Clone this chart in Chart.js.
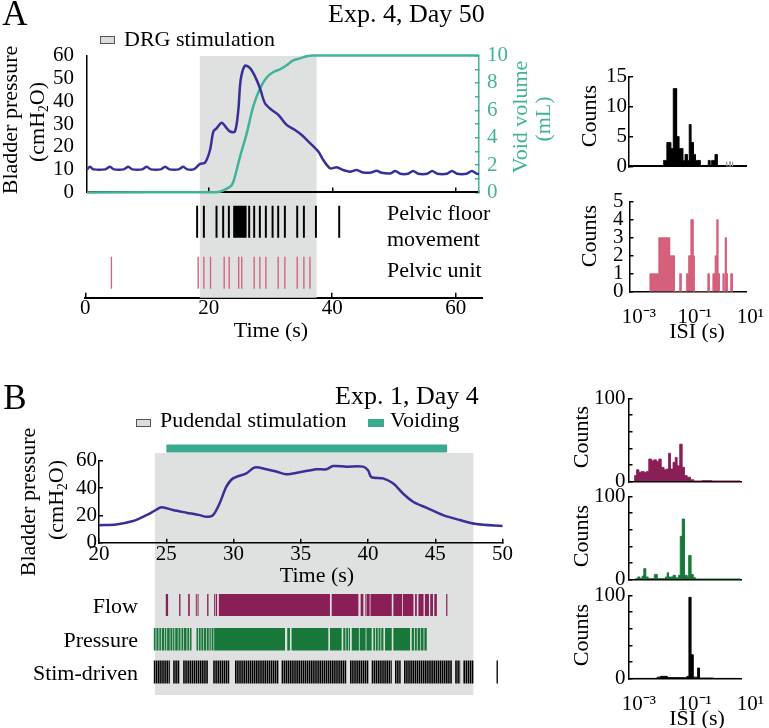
<!DOCTYPE html>
<html><head><meta charset="utf-8">
<script src="https://cdn.jsdelivr.net/npm/chart.js@4/dist/chart.umd.min.js"></script>
<style>
html,body{margin:0;padding:0;background:#fff;}
#page{position:relative;width:769px;height:728px;overflow:hidden;font-family:'Liberation Serif','Times New Roman',serif;color:#000;background:#fff;}
.wrap{position:absolute;left:0;top:0;}
.wrap canvas{display:block;}
#texts{position:absolute;left:0;top:0;width:769px;height:728px;z-index:50;pointer-events:none;}
#texts div{position:absolute;white-space:nowrap;line-height:1;font-size:22px;}
.c{transform:translate(-50%,-50%);}
.l{transform:translate(0,-50%);}
.r{transform:translate(-100%,-50%);}
.v{transform:translate(-50%,-50%) rotate(-90deg);}
.teal{color:#3fb49a;}
sub{font-size:0.62em;vertical-align:-0.3em;line-height:0;}
</style></head><body>
<div id="page">
<div id="texts">
  <div class="c" style="left:15px;top:13px;font-size:35px">A</div>
  <div class="l" style="left:328px;top:14px;font-size:26px">Exp. 4, Day 50</div>
  <div style="left:100px;top:36px;width:13px;height:6px;border:1px solid #555;background:#dcdcdc"></div>
  <div class="l" style="left:124px;top:39px">DRG stimulation</div>
  <div class="v" style="left:10px;top:120px">Bladder pressure</div>
  <div class="v" style="left:37px;top:122px">(cmH<sub>2</sub>O)</div>
  <div class="v teal" style="left:520px;top:117px">Void volume</div>
  <div class="v teal" style="left:543px;top:119px">(mL)</div>
  <div class="l" style="left:387px;top:213px">Pelvic floor</div>
  <div class="l" style="left:387px;top:239px">movement</div>
  <div class="l" style="left:387px;top:270px">Pelvic unit</div>
  <div class="c" style="left:271px;top:330px">Time (s)</div>
  <div class="v" style="left:589px;top:116px">Counts</div>
  <div class="v" style="left:589px;top:236px">Counts</div>
  <div class="c" style="left:697px;top:331px">ISI (s)</div>

  <div class="c" style="left:15px;top:397px;font-size:35px">B</div>
  <div class="l" style="left:335px;top:396px;font-size:26px">Exp. 1, Day 4</div>
  <div style="left:136px;top:419px;width:13px;height:6px;border:1px solid #555;background:#dcdcdc"></div>
  <div class="l" style="left:160px;top:420px">Pudendal stimulation</div>
  <div style="left:368px;top:419px;width:16px;height:8px;background:#3aab90"></div>
  <div class="l" style="left:390px;top:420px">Voiding</div>
  <div class="v" style="left:28px;top:502px">Bladder pressure</div>
  <div class="v" style="left:56px;top:500px">(cmH<sub>2</sub>O)</div>
  <div class="c" style="left:317px;top:575px">Time (s)</div>
  <div class="r" style="left:138px;top:606px">Flow</div>
  <div class="r" style="left:138px;top:640px">Pressure</div>
  <div class="r" style="left:138px;top:673px">Stim-driven</div>
  <div class="v" style="left:581px;top:437px">Counts</div>
  <div class="v" style="left:581px;top:536px">Counts</div>
  <div class="v" style="left:581px;top:635px">Counts</div>
  <div class="c" style="left:697px;top:718px">ISI (s)</div>
</div>
</div>
<script>
// ================= DATA =================
// ---- Panel A: Exp. 4, Day 50 ----
const aTimeTicks = [0, 20, 40, 60];
const aPressTicks = [0, 10, 20, 30, 40, 50, 60];
const aVolTicks = [0, 1, 2, 3, 4, 5, 6, 7, 8, 9, 10];
const aPressT = [0.24,0.73,1.3,3.2,3.97,4.6,6.2,6.94,7.6,9.2,9.92,10.6,12.2,12.9,13.6,15.1,15.85,16.5,17.6,18.56,19.37,20.18,20.72,21.26,22.07,22.88,23.41,24.22,24.77,25.15,25.85,26.66,27.47,28.28,29.09,30.17,31.25,32.6,33.95,35.04,36.39,37.73,38.54,39.63,40.71,41.78,42.87,43.95,45.02,46.3,47.2,48.0,49.4,50.2,51.0,52.3,53.1,53.9,55.4,56.2,57.0,58.6,59.4,60.2,61.8,62.6,63.4,63.78];
const aPressV = [10.1,11.2,10.1,10.1,11.2,10.1,10.1,11.2,10.1,10.1,11.2,10.1,10.1,11.2,10.1,10.1,11.2,10.1,10.2,12.5,13,18.6,26.7,28.2,30.6,28.2,26.7,26.7,36.2,49.4,55.6,54.5,50.9,45.7,39.1,36.2,34,29.6,27.4,25.2,21.6,17.9,14.2,10.6,11,9.8,9.1,9.8,8.7,8.7,9.5,8.6,8.3,9.4,8.2,8.2,9.4,8.2,8.2,9.4,8.2,8.2,9.4,8.2,8.2,9.4,8.2,8.0];
const aVolT = [0.24,21.26,23.41,23.95,25.04,26.12,27.2,28.28,29.37,30.44,31.52,32.6,33.68,34.77,35.85,36.92,63.78];
const aVolV = [0,0.02,0.4,0.76,2.6,4.3,6.3,7.6,8.4,8.8,9.0,9.3,9.65,9.8,9.95,10,10];
const aStimWindow = [18.56, 37.47];
const aFloorSpikes = [18.12,19.21,21.26,22.34,23.26,26.55,27.36,28.28,29.25,30.34,31.25,32.33,34.33,35.41,37.36,41.13];
const aFloorBursts = [[23.96, 26.13]];
const aUnitSpikes = [4.24,18.29,19.21,20.29,22.5,23.31,24.85,25.35,27.36,28.28,29.25,31.25,32.33,34.33,35.41,36.39];

const isiTicks = [-3, -1, 1];
const isiTickLabels = ['10\u207B\u00B3', '10\u207B\u00B9', '10\u00B9'];
const aFloorCountTicks = [0, 5, 10, 15];
const aUnitCountTicks = [0, 1, 2, 3, 4, 5];
const aFloorIsiEdges = [-2.11,-1.99,-1.85,-1.76,-1.64,-1.56,-1.42,-1.34,-1.26,-1.19,-1.13,-1.04,-0.97,-0.80,-0.51,-0.45,-0.39,-0.27,-0.19];
const aFloorIsiCounts = [1,4,3,13,5,3,1,2,1,7,4,2,1,0,1,0,1,2];
const aFloorFaintEdges = [0.145,0.155,0.265,0.275,0.355,0.365];
const aFloorFaintCounts = [0.8,0,0.8,0,0.8];
const aUnitIsiEdges = [-2.61,-2.29,-1.90,-1.73,-1.54,-1.49,-1.30,-1.22,-1.14,-1.06,-1.02,-0.53,-0.48,-0.35,-0.27,-0.21,-0.17,-0.11,0.01,0.05,0.09,0.13,0.17,0.29,0.35];
const aUnitIsiCounts = [1,3,2,0,1,0,1,2,4,2,0,1,0,1,2,4,1,0,1,0,3,1,0,1];

// ---- Panel B: Exp. 1, Day 4 ----
const bTimeTicks = [20, 25, 30, 35, 40, 45, 50];
const bPressTicks = [0, 20, 40, 60];
const bCountTicks = [0, 20, 40, 60, 80, 100];
const bPressT = [20,21.29,22.53,23.27,24.02,24.64,25.5,26.5,27.49,27.99,28.48,28.97,29.47,29.96,30.96,31.58,32.44,33.19,33.93,34.92,36.16,36.91,37.4,38.39,39.63,40.0,40.25,41.12,41.86,42.6,43.35,44.34,45.58,46.82,48.06,50];
const bPressV = [12.9,13.4,15.9,19,22.7,25.9,23.9,22,20.2,19,20.2,28.8,41,47,50.7,55,53.7,52,50,51.5,53.7,53.7,56,55.6,55.6,53,48,47,43.4,36,30,25.6,20.2,16.6,13.7,12.2];
const bStimWindow = [24.15, 47.8];
const bVoidWindow = [25.0, 45.85];
const bFlowRuns = [[24.96,25.13],[25.95,26.05],[26.62,26.74],[27.19,27.26],[27.32,27.39],[28.03,28.13],[28.55,28.63],[28.68,28.77],[28.9,37.15],[37.28,39.26],[39.43,39.63],[39.75,39.8],[39.86,40.1],[40.16,41.74],[41.86,42.5],[42.56,43.35],[43.47,43.6],[43.72,44.1],[44.2,44.5],[44.6,44.8],[44.9,45.09],[45.78,45.87]];
const bPressRuns = [[24.07,24.2],[24.26,24.42],[24.48,24.6],[24.66,24.85],[24.9,25.0],[25.06,25.25],[25.3,25.45],[25.5,25.6],[25.66,25.85],[25.9,26.05],[26.12,26.25],[26.3,26.5],[26.56,26.7],[26.76,26.87],[27.24,27.35],[27.41,27.55],[27.6,27.75],[27.8,27.95],[28.0,28.15],[28.2,28.3],[28.36,28.5],[28.55,28.73],[28.73,33.81],[33.98,34.18],[34.3,37.03],[37.15,38.02],[38.14,38.3],[38.36,38.5],[38.55,38.64],[38.77,39.3],[39.36,39.8],[39.86,40.25],[40.37,40.5],[40.56,40.7],[40.76,40.9],[40.96,41.12],[41.24,41.74],[41.86,43.1],[43.22,43.4],[43.46,43.6],[43.66,43.85],[43.9,44.1],[44.16,44.34]];
const bStimRuns = [[24.07,25.26],[25.51,26.0],[26.25,28.1],[28.48,29.67],[30.1,33.32],[33.56,38.39],[38.64,40.0],[40.25,41.74],[41.98,42.4],[42.65,46.2],[46.45,46.82],[47.06,47.8],[49.52,49.62]];

const bFlowIsiEdges = [-3.16,-3.09,-3.01,-2.92,-2.83,-2.73,-2.65,-2.56,-2.47,-2.38,-2.29,-2.21,-2.11,-2.02,-1.94,-1.875,-1.78,-1.70,-1.64,-1.54,-1.46,-1.375,-1.28,-1.16,-1.04,-0.74,-0.39,0.625];
const bFlowIsiCounts = [7,14,11,12,11,12,27,25,26,24,27,17,14,15,34,15,23,29,19,45,17,7,5,2,0.6,1,0.6];
const bPressIsiEdges = [-3.125,-3.04,-2.97,-2.89,-2.83,-2.76,-2.68,-2.45,-2.35,-2.05,-1.99,-1.94,-1.78,-1.70,-1.58,-1.52,-1.45,-1.375,-1.28,-1.22,-1.14,-1.06,-0.98,0.625];
const bPressIsiCounts = [1,3,1,4,13,3,1,6,1,3,8,3,5,2,5,52,73,5,3,29,6,2,0.6];
const bStimIsiEdges = [-3.30,-2.35,-2.23,-1.99,-1.28,-1.21,-1.14,-1.06,-0.90,-0.83,-0.33,0.625];
const bStimIsiCounts = [0.5,2,3,1.5,3,98,29,2,13,1,0.5];

// ================= STYLE =================
const BLUE = '#38309a', TEAL = '#3fb49a', VOID = '#3aab90', GRAY = '#dfe0e0';
const PINK = '#d5607b', FLOW = '#8a1e56', GREEN = '#17783a';
Chart.defaults.font.family = "'Liberation Serif','Times New Roman',serif";
Chart.defaults.font.size = 21;
Chart.defaults.color = '#000';

const zip = (xs, ys) => xs.map((x, i) => ({x, y: ys[i]}));
const spikes = (ts, h) => ts.map(t => [t - h, t + h]);
const fixTicks = vals => (ax => { ax.ticks = vals.map(v => ({value: v})); });
function rasterDS(runs, yRow, color, width, dash) {
  const data = [];
  runs.slice().sort((a, b) => a[0] - b[0]).forEach(([a, b]) => {
    data.push({x: a, y: yRow}, {x: b, y: yRow}, {x: b, y: null});
  });
  return {data, borderColor: color, borderWidth: width, pointRadius: 0, fill: false,
          spanGaps: false, borderCapStyle: 'butt', borderDash: dash || [], tension: 0};
}
function histDS(edges, counts, color) {
  // count i covers the bin from edge i to edge i+1
  const data = [{x: edges[0], y: 0}];
  counts.forEach((c, i) => { data.push({x: edges[i], y: c}, {x: edges[i + 1], y: c}); });
  data.push({x: edges[edges.length - 1], y: 0});
  return {data, fill: 'origin', backgroundColor: color, borderColor: color,
          borderWidth: 0.8, pointRadius: 0, tension: 0};
}
const base = () => ({responsive: false, maintainAspectRatio: false, animation: false, devicePixelRatio: 1,
  events: [], layout: {padding: 0, autoPadding: false}, plugins: {legend: {display: false}, tooltip: {enabled: false}}});
const inGrid = (color, len) => ({drawOnChartArea: false, color, tickLength: len, lineWidth: 1.5});

const page = document.getElementById('page');
const textsEl = document.getElementById('texts');
let zc = 1;
function build(makeCfg, L, T, R, B) {
  const wrap = document.createElement('div');
  wrap.className = 'wrap';
  wrap.style.zIndex = String(zc++);
  page.insertBefore(wrap, textsEl);
  let W = Math.round(R - L) + 200, H = Math.round(B - T) + 120;
  let cv = document.createElement('canvas'); cv.width = W; cv.height = H; wrap.appendChild(cv);
  let ch = new Chart(cv, makeCfg());
  const a = ch.chartArea;
  const oL = a.left, oT = a.top, oR = W - a.right, oB = H - a.bottom;
  ch.destroy(); wrap.removeChild(cv);
  const cl = Math.round(L - oL), ct = Math.round(T - oT);
  const W2 = Math.round(R - cl + oR), H2 = Math.round(B - ct + oB);
  cv = document.createElement('canvas'); cv.width = W2; cv.height = H2; wrap.appendChild(cv);
  wrap.style.left = cl + 'px'; wrap.style.top = ct + 'px';
  return new Chart(cv, makeCfg());
}

// ---- Panel A background: stimulation window + rasters + time axis ----
build(() => ({
  type: 'line',
  data: {datasets: [
    rasterDS(spikes(aFloorSpikes, 0.16).concat(aFloorBursts), 76, '#000', 32),
    rasterDS(spikes(aUnitSpikes, 0.11), 25, PINK, 32),
    rasterDS([aStimWindow], 121, GRAY, 242)
  ]},
  options: {...base(), scales: {
    x: {type: 'linear', min: 0, max: 64.42, border: {color: '#000', width: 2},
        grid: inGrid('#000', -5), ticks: {padding: 3, autoSkip: false, maxRotation: 0},
        afterBuildTicks: fixTicks(aTimeTicks)},
    y: {display: false, min: 0, max: 242}
  }}
}), 85.5, 56, 483, 298);

// ---- Panel A top: bladder pressure + void volume ----
build(() => ({
  type: 'line',
  data: {datasets: [
    {data: zip(aPressT, aPressV), borderColor: BLUE, borderWidth: 2.5, pointRadius: 0, yAxisID: 'y', clip: 6, tension: 0.3},
    {data: zip(aVolT, aVolV), borderColor: TEAL, borderWidth: 2.5, pointRadius: 0, yAxisID: 'y2', clip: 6, tension: 0.3}
  ]},
  options: {...base(), scales: {
    x: {type: 'linear', min: 0.24, max: 63.78, border: {color: '#000', width: 2},
        grid: inGrid('#000', -5), ticks: {display: false},
        afterBuildTicks: fixTicks(aTimeTicks.filter(v => v > 1))},
    y: {position: 'left', min: 0, max: 60, ticks: {padding: 5, autoSkip: false},
        afterBuildTicks: fixTicks(aPressTicks),
        grid: {display: false}, border: {color: '#000', width: 1.5}},
    y2: {position: 'right', min: 0, max: 10,
         ticks: {padding: 12, color: TEAL, autoSkip: false, callback: v => (v % 2 === 0 ? v : '')},
         afterBuildTicks: fixTicks(aVolTicks),
         grid: inGrid(TEAL, -4), border: {color: TEAL, width: 1.5}}
  }}
}), 87, 56, 479, 192);

// ---- Histograms (x in log10 of ISI) ----
function histCfg(sets, opt) {
  return () => ({
    type: 'line',
    data: {datasets: sets.map(s => histDS(s[0], s[1], s[2]))},
    options: {...base(), layout: {padding: {right: 40}, autoPadding: false}, scales: {
      x: {type: 'linear', min: opt.xmin, max: opt.xmax, border: {color: '#000', width: opt.bw || 1.5},
          grid: {display: false},
          ticks: {display: !!opt.labels, padding: 5, autoSkip: false, maxRotation: 0,
                  callback: v => { const i = isiTicks.indexOf(v); return i >= 0 ? isiTickLabels[i] : ''; }},
          afterBuildTicks: fixTicks(isiTicks)},
      y: {min: 0, max: opt.ymax,
          ticks: {padding: opt.pad, autoSkip: false, callback: opt.ylab || (v => v)},
          afterBuildTicks: fixTicks(opt.yticks),
          grid: inGrid('#000', -4), border: {color: '#000', width: 1.5}}
    }}
  });
}
build(histCfg([[aFloorIsiEdges, aFloorIsiCounts, '#000'], [aFloorFaintEdges, aFloorFaintCounts, '#9a9a9a']],
  {xmin: -3.34, xmax: 0.84, ymax: 15, yticks: aFloorCountTicks, pad: 6, bw: 2}), 629, 77, 746, 166);
build(histCfg([[aUnitIsiEdges, aUnitIsiCounts, PINK]],
  {xmin: -3.34, xmax: 0.84, ymax: 5, yticks: aUnitCountTicks, pad: 10, labels: true}), 629, 202, 746, 292);

// ---- Panel B background: stimulation, voiding, rasters ----
build(() => ({
  type: 'line',
  data: {datasets: [
    rasterDS(bFlowRuns, 90, FLOW, 22),
    rasterDS(bPressRuns, 55.7, GREEN, 22.5),
    rasterDS(bStimRuns, 23, '#000', 23, [1.6, 0.5]),
    rasterDS([bVoidWindow], 246.5, VOID, 8),
    rasterDS([bStimWindow], 121, GRAY, 242)
  ]},
  options: {...base(), scales: {
    x: {display: false, type: 'linear', min: 20, max: 50},
    y: {display: false, min: 0, max: 255}
  }}
}), 99.3, 440, 502.7, 695);

// ---- Panel B pressure ----
build(() => ({
  type: 'line',
  data: {datasets: [
    {data: zip(bPressT, bPressV), borderColor: BLUE, borderWidth: 2.5, pointRadius: 0, clip: 4, tension: 0.3}
  ]},
  options: {...base(), scales: {
    x: {type: 'linear', min: 20, max: 50, border: {color: '#000', width: 1.5},
        grid: inGrid('#000', -4), ticks: {padding: 3, autoSkip: false, maxRotation: 0},
        afterBuildTicks: fixTicks(bTimeTicks)},
    y: {min: 0, max: 60, ticks: {padding: 6, autoSkip: false},
        afterBuildTicks: fixTicks(bPressTicks),
        grid: inGrid('#000', -4), border: {color: '#000', width: 1.5}}
  }}
}), 99.3, 460.7, 502.7, 542.7);

// ---- Panel B histograms ----
const hundred = v => (v === 0 || v === 100 ? v : '');
build(histCfg([[bFlowIsiEdges, bFlowIsiCounts, FLOW]],
  {xmin: -3.375, xmax: 0.66, ymax: 100, yticks: bCountTicks, pad: 7, ylab: hundred}), 628, 398.5, 741, 481);
build(histCfg([[bPressIsiEdges, bPressIsiCounts, GREEN]],
  {xmin: -3.375, xmax: 0.66, ymax: 100, yticks: bCountTicks, pad: 7, ylab: hundred}), 628, 497, 741, 579);
build(histCfg([[bStimIsiEdges, bStimIsiCounts, '#000']],
  {xmin: -3.375, xmax: 0.66, ymax: 100, yticks: bCountTicks, pad: 7, ylab: hundred, labels: true}), 628, 596, 741, 679);
</script>
</body></html>
